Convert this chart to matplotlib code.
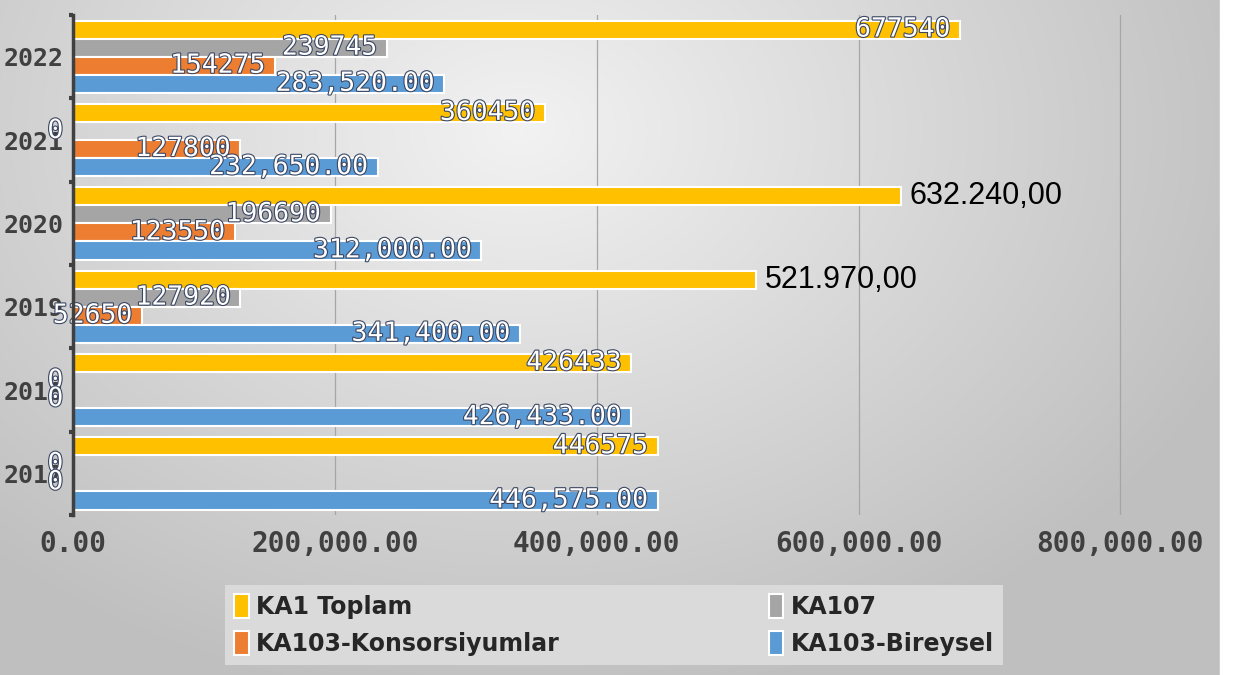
# Erasmus KA1 funding by year, horizontal grouped bars
import numpy as np
import matplotlib.pyplot as plt
import matplotlib.patheffects as pe

years = ["2017", "2018", "2019", "2020", "2021", "2022"]
ka1_toplam = [446575, 426433, 521970, 632240, 360450, 677540]
ka107 = [0, 0, 127920, 196690, 0, 239745]
ka103_konsorsiyum = [0, 0, 52650, 123550, 127800, 154275]
ka103_bireysel = [446575, 426433, 341400, 312000, 232650, 283520]
outside_label_years = ["2019", "2020"]
x_ticks = [0, 200000, 400000, 600000, 800000]

W, H = 1233, 675


def euro(v):
    s = f"{v:,.2f}"
    return s.replace(",", "X").replace(".", ",").replace("X", ".")


def main():
    fig = plt.figure(figsize=(W / 100, H / 100), dpi=100)

    # gray gradient background
    bg = fig.add_axes([0, 0, 1, 1], zorder=-10)
    yy, xx = np.mgrid[0:H, 0:W]
    d = np.sqrt(((xx - 520) / 780) ** 2 + ((yy - 130) / 580) ** 2)
    shade = 0.95 - 0.20 * np.clip(d, 0, 1)
    bg.imshow(np.dstack([shade] * 3), aspect="auto", extent=(0, W, H, 0))
    bg.axvspan(1220, W, color="white")
    bg.set_xlim(0, W)
    bg.set_ylim(H, 0)
    bg.axis("off")

    ax = fig.add_axes([73 / W, 1 - 515 / H, 1139 / W, 500 / H])
    ax.patch.set_alpha(0)

    y = np.arange(len(years))
    h = 0.217
    series = [
        (ka1_toplam, "#FFC000", "KA1 Toplam", 1.5),
        (ka107, "#A5A5A5", "KA107", 0.5),
        (ka103_konsorsiyum, "#ED7D31", "KA103-Konsorsiyumlar", -0.5),
        (ka103_bireysel, "#5B9BD5", "KA103-Bireysel", -1.5),
    ]
    white_fx = [pe.withStroke(linewidth=1.6, foreground="#3b4763")]
    bars = {}
    for vals, color, name, off in series:
        b = ax.barh(y + off * h, vals, height=h, color=color,
                    edgecolor="white", linewidth=1.5, label=name, zorder=3)
        bars[name] = b
        for yr, yi, v in zip(years, y, vals):
            if name == "KA1 Toplam" and yr in outside_label_years:
                ax.annotate(euro(v), (v, yi + off * h), xytext=(6, 0),
                            textcoords="offset points", ha="left", va="center",
                            fontsize=22, color="black",
                            family="Liberation Sans", zorder=5)
                continue
            txt = f"{v:,.2f}" if name == "KA103-Bireysel" else f"{v:.0f}"
            ax.annotate(txt, (v, yi + off * h), xytext=(-7, 0),
                        textcoords="offset points", ha="right", va="center",
                        fontsize=19, color="white", family="DejaVu Sans Mono",
                        path_effects=white_fx, zorder=5)

    ax.set_xlim(0, 870000)
    ax.set_ylim(-0.5, len(years) - 0.5)
    ax.set_xticks(x_ticks)
    ax.set_xticklabels([f"{t:,.2f}" for t in x_ticks])
    ax.set_yticks(y)
    ax.set_yticklabels(years)
    ax.set_yticks(np.arange(-0.5, len(years)), minor=True)
    ax.tick_params(axis="x", length=0, pad=11, labelsize=20, labelcolor="#404040")
    ax.tick_params(axis="y", which="major", length=0, pad=7, labelsize=18,
                   labelcolor="#404040")
    ax.tick_params(axis="y", which="minor", length=3, width=3, color="#404040")
    for lab in ax.get_xticklabels() + ax.get_yticklabels():
        lab.set_family("DejaVu Sans Mono")
        lab.set_weight("bold")

    ax.grid(axis="x", color="#a6a6a6", linewidth=0.9, zorder=0)
    for s in ["top", "right", "bottom"]:
        ax.spines[s].set_visible(False)
    ax.spines["left"].set_color("#404040")
    ax.spines["left"].set_linewidth(2.5)
    ax.spines["left"].set_zorder(6)

    handles = [bars["KA1 Toplam"], bars["KA103-Konsorsiyumlar"],
               bars["KA107"], bars["KA103-Bireysel"]]
    leg = fig.legend(handles, [b.get_label() for b in handles], ncol=2,
                     loc="center", mode="expand",
                     bbox_to_anchor=(225 / W, 3 / H, 778 / W, 94 / H),
                     frameon=True, fancybox=False, facecolor="#dadada",
                     edgecolor="none", framealpha=1, handlelength=0.6,
                     handleheight=1.2, handletextpad=0.3, borderaxespad=0,
                     prop={"family": "DejaVu Sans", "weight": "bold", "size": 17})
    for t in leg.get_texts():
        t.set_color("#262626")

    fig.savefig("out.png", dpi=100)


if __name__ == '__main__':
    main()
